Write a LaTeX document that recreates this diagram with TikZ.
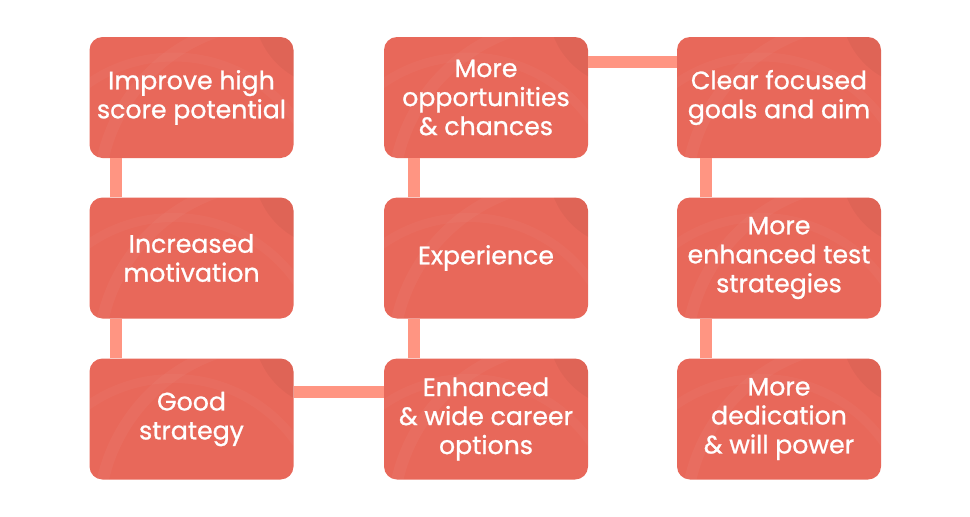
\documentclass[tikz,border=0pt]{standalone}
\usepackage{fontspec}
\setmainfont{Poppins}[FakeBold=0.9]
\definecolor{boxc}{HTML}{E8685A}
\definecolor{connc}{HTML}{FF9582}
\begin{document}
\begin{tikzpicture}[x=1pt,y=-1pt,
  stepbox/.style={fill=boxc, rounded corners=13pt, minimum width=204pt, minimum height=121pt,
    inner sep=0pt, text=white, align=center, font=\fontsize{25.2}{29}\selectfont,
    path picture={
      \fill[black, opacity=0.035] ([shift={(40pt,30pt)}]path picture bounding box.north east) circle[radius=80pt];
      \draw[white, opacity=0.04, line width=12pt] ([shift={(-20pt,-160pt)}]path picture bounding box.north east) circle[radius=175pt];
      \draw[white, opacity=0.03, line width=9pt] ([shift={(-120pt,-170pt)}]path picture bounding box.north east) circle[radius=150pt];
    }},
  conn/.style={draw=connc, line width=12pt, line cap=butt}]
\useasboundingbox (0,0) rectangle (970,517);
\node[stepbox] (a1) at (191.5,97.5) {Improve high\\score potential};
\node[stepbox] (a2) at (191.5,258) {Increased\\motivation};
\node[stepbox] (a3) at (191.5,419) {Good\\strategy};
\node[stepbox] (b1) at (486,97.5) {More\\opportunities\\\& chances};
\node[stepbox] (b2) at (486,258) {Experience};
\node[stepbox] (b3) at (486,419) {Enhanced\\\& wide career\\options};
\node[stepbox] (c1) at (779,97.5) {Clear focused\\goals and aim};
\node[stepbox] (c2) at (779,258) {More\\enhanced test\\strategies};
\node[stepbox] (c3) at (779,419) {More\\dedication\\\& will power};
\draw[conn] ([xshift=27pt]a1.south west) -- ([xshift=27pt]a2.north west);
\draw[conn] ([xshift=27pt]a2.south west) -- ([xshift=27pt]a3.north west);
\draw[conn] ([yshift=-34pt]a3.north east) -- ([yshift=-34pt]b3.north west);
\draw[conn] ([xshift=30pt]b3.north west) -- ([xshift=30pt]b2.south west);
\draw[conn] ([xshift=30pt]b2.north west) -- ([xshift=30pt]b1.south west);
\draw[conn] ([yshift=-25pt]b1.north east) -- ([yshift=-25pt]c1.north west);
\draw[conn] ([xshift=29pt]c1.south west) -- ([xshift=29pt]c2.north west);
\draw[conn] ([xshift=29pt]c2.south west) -- ([xshift=29pt]c3.north west);
\end{tikzpicture}
\end{document}
